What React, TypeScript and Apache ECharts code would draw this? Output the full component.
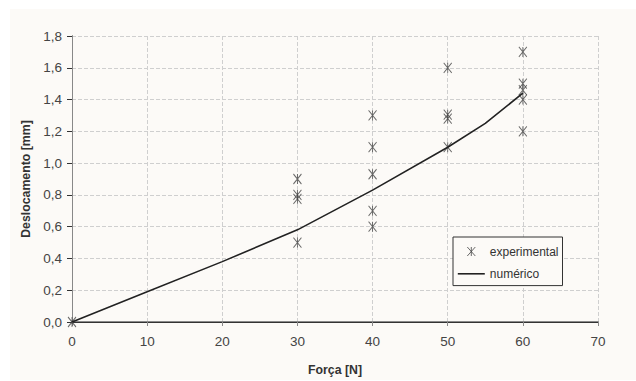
import React, { useEffect, useRef } from 'react';
import * as echarts from 'echarts';

const xTicks = [0, 10, 20, 30, 40, 50, 60, 70];
const yTicks = [0, 0.2, 0.4, 0.6, 0.8, 1.0, 1.2, 1.4, 1.6, 1.8];
const expForce = [0, 30, 30, 30, 30, 40, 40, 40, 40, 40, 50, 50, 50, 50, 60, 60, 60, 60, 60];
const expDisp = [0, 0.9, 0.8, 0.775, 0.5, 1.3, 1.1, 0.93, 0.7, 0.6, 1.6, 1.305, 1.28, 1.1, 1.7, 1.5, 1.46, 1.4, 1.2];
const numForce = [0, 10, 20, 30, 40, 50, 55, 60];
const numDisp = [0, 0.19, 0.38, 0.58, 0.83, 1.1, 1.25, 1.44];

const FONT = 'Liberation Sans, Arial, sans-serif';
const STAR = 'path://M0,0 L10,12 M10,0 L0,12 M5,0 L5,12';
const STAR_LEGEND = 'path://M0,0 M27,14 M9.5,2.5 L17.5,11.5 M17.5,2.5 L9.5,11.5 M13.5,2.5 L13.5,11.5';
const LINE_LEGEND = 'path://M0,0 M27,14 M0,7 L27,7';

export default function App() {
  const ref = useRef<HTMLDivElement>(null);
  useEffect(() => {
    if (!ref.current) return;
    const chart = echarts.init(ref.current, null, { renderer: 'svg' });
    chart.setOption({
      animation: false,
      backgroundColor: '#ffffff',
      graphic: [
        { type: 'rect', left: 10, top: 9, shape: { width: 626, height: 371 }, style: { fill: '#fcfaf7' }, z: -10 },
      ],
      grid: { left: 72, right: 38, top: 36, bottom: 58 },
      legend: {
        orient: 'vertical',
        left: 453,
        top: 237,
        padding: [7, 4, 4, 4],
        itemWidth: 27,
        itemHeight: 14,
        itemGap: 7,
        borderColor: '#333',
        borderWidth: 1,
        backgroundColor: '#fcfaf7',
        textStyle: { fontFamily: FONT, fontSize: 12, color: '#333' },
        data: [
          { name: 'experimental', icon: STAR_LEGEND, itemStyle: { color: 'transparent', borderColor: '#444', borderWidth: 1 } },
          { name: 'numérico', icon: LINE_LEGEND, itemStyle: { color: 'transparent', borderColor: '#222', borderWidth: 1.6 } },
        ],
      },
      xAxis: [
        {
          type: 'value',
          min: 0,
          max: 70,
          interval: 10,
          name: 'Força [N]',
          nameLocation: 'middle',
          nameGap: 42,
          nameTextStyle: { fontFamily: FONT, fontSize: 12.3, fontWeight: 'bold', color: '#333' },
          axisLine: { onZero: false, lineStyle: { color: '#8a8a8a', width: 2 } },
          axisTick: { show: true, length: 4, lineStyle: { color: '#8a8a8a' } },
          axisLabel: { margin: 12, fontFamily: FONT, fontSize: 13.5, color: '#444' },
          splitLine: { show: true, lineStyle: { color: '#cfcfcf', type: 'dashed', width: 1 } },
        },
        {
          type: 'value',
          position: 'top',
          min: 0,
          max: 70,
          interval: 10,
          axisLine: { show: true, lineStyle: { color: '#333', width: 1 } },
          axisTick: { show: false },
          axisLabel: { show: false },
          splitLine: { show: false },
        },
      ],
      yAxis: [
        {
          type: 'value',
          min: 0,
          max: 1.8,
          interval: 0.2,
          name: 'Deslocamento [mm]',
          nameLocation: 'middle',
          nameGap: 37,
          nameTextStyle: { fontFamily: FONT, fontSize: 12.3, fontWeight: 'bold', color: '#333' },
          axisLine: { show: true, onZero: false, lineStyle: { color: '#333', width: 1 } },
          axisTick: { show: true, length: 5, lineStyle: { color: '#333' } },
          axisLabel: {
            margin: 10,
            fontFamily: FONT,
            fontSize: 13.5,
            color: '#444',
            formatter: (v: number) => v.toFixed(1).replace('.', ','),
          },
          splitLine: { show: true, lineStyle: { color: '#cfcfcf', type: 'dashed', width: 1 } },
        },
        {
          type: 'value',
          position: 'right',
          min: 0,
          max: 1.8,
          interval: 0.2,
          axisLine: { show: true, lineStyle: { color: '#888', width: 1 } },
          axisTick: { show: false },
          axisLabel: { show: false },
          splitLine: { show: false },
        },
      ],
      series: [
        {
          name: 'experimental',
          type: 'scatter',
          symbol: STAR,
          symbolSize: [8, 10],
          itemStyle: { color: 'transparent', borderColor: '#444', borderWidth: 1 },
          data: expForce.map((f, i) => [f, expDisp[i]]),
          z: 3,
        },
        {
          name: 'numérico',
          type: 'line',
          symbol: 'none',
          lineStyle: { color: '#222', width: 1.6 },
          itemStyle: { color: '#222' },
          data: numForce.map((f, i) => [f, numDisp[i]]),
          z: 4,
        },
      ],
    });
    return () => chart.dispose();
  }, []);
  return <div ref={ref} style={{ width: 636, height: 381, position: 'absolute', left: 0, top: 0 }} />;
}
